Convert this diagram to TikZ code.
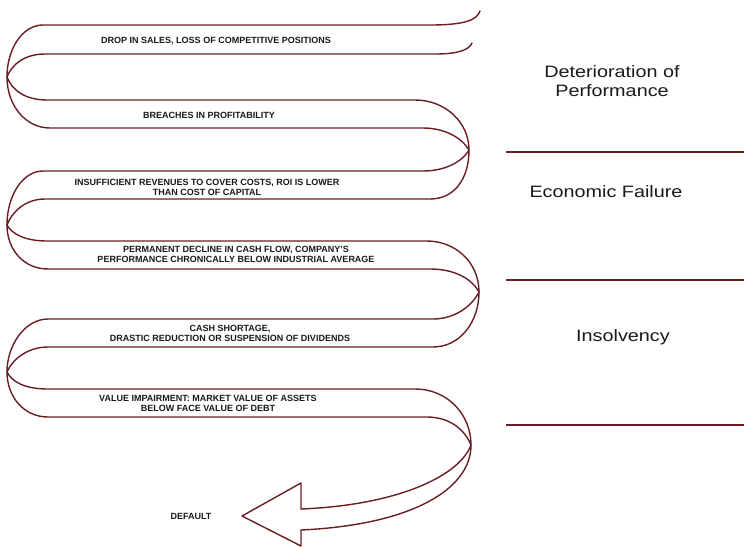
\documentclass[tikz,border=0pt]{standalone}
\usepackage{fontspec}
\setmainfont{Liberation Sans}
\usepackage{graphicx}
\definecolor{ribbon}{RGB}{105,30,36}
\definecolor{ink}{RGB}{25,25,25}
\newcommand\widen[1]{\scalebox{1.2}[1]{#1}}
\begin{document}
\begin{tikzpicture}[x=1pt,y=-1pt,
  edge/.style={draw=ribbon,line width=1.4pt,line join=round,line cap=round},
  divider/.style={draw=ribbon,line width=1.3pt},
  stage/.style={font=\fontsize{9}{10}\selectfont\bfseries,text=ink,align=center,inner sep=0pt},
  phase/.style={font=\fontsize{16.5}{18.7}\selectfont,text=ink,align=center,inner sep=0pt}]
\useasboundingbox (0,0) rectangle (744,547);

% first edge of the folded ribbon
\draw[edge] (480,11) .. controls (477,20) and (465,25) .. (430,25) -- (43,25)
 .. controls (23,25) and (7,48) .. (7,77)
 .. controls (7,106) and (26,128) .. (50,128)
 -- (423,128)
 .. controls (445,128) and (462,138) .. (469,150)
 .. controls (462,162) and (445,171) .. (423,171)
 -- (43,171)
 .. controls (23,171) and (7,195) .. (7,225)
 .. controls (7,250) and (24,269) .. (48,269)
 -- (430,269)
 .. controls (455,269) and (472,279) .. (479,292)
 .. controls (472,306) and (455,319) .. (433,319)
 -- (48,319)
 .. controls (25,319) and (7,345) .. (7,372)
 .. controls (7,397) and (24,417) .. (48,417)
 -- (427,417)
 .. controls (450,417) and (465,430) .. (471,445)
 .. controls (460,475) and (400,505) .. (301,509);

% second edge of the folded ribbon
\draw[edge] (472,43) .. controls (469,50) and (458,54) .. (435,54) -- (45,54)
 .. controls (25,54) and (12,64) .. (7,77)
 .. controls (12,90) and (25,100) .. (47,100)
 -- (415,100)
 .. controls (445,100) and (469,122) .. (469,150)
 .. controls (469,178) and (455,199) .. (430,199)
 -- (45,199)
 .. controls (25,199) and (12,212) .. (7,225)
 .. controls (12,234) and (25,241) .. (47,241)
 -- (427,241)
 .. controls (455,241) and (479,262) .. (479,292)
 .. controls (479,322) and (460,347) .. (433,347)
 -- (48,347)
 .. controls (27,347) and (12,360) .. (7,372)
 .. controls (12,382) and (25,389) .. (48,389)
 -- (415,389)
 .. controls (448,389) and (471,415) .. (471,445)
 .. controls (471,490) and (410,525) .. (301,530);

% arrow head at the end of the ribbon
\draw[edge] (301,509) -- (301,483) -- (242,516) -- (301,546) -- (301,530);

% phase dividers
\draw[divider] (506,152) -- (744,152);
\draw[divider] (506,280) -- (744,280);
\draw[divider] (506,425) -- (744,425);

% stage texts along the ribbon
\node[stage] (s1) at (216,41) {DROP IN SALES, LOSS OF COMPETITIVE POSITIONS};
\node[stage] (s2) at (209,115) {BREACHES IN PROFITABILITY};
\node[stage] (s3) at (207,187) {INSUFFICIENT REVENUES TO COVER COSTS, ROI IS LOWER\\THAN COST OF CAPITAL};
\node[stage] (s4) at (236,254) {PERMANENT DECLINE IN CASH FLOW, COMPANY'S\\PERFORMANCE CHRONICALLY BELOW INDUSTRIAL AVERAGE};
\node[stage] (s5) at (230,333) {CASH SHORTAGE,\\DRASTIC REDUCTION OR SUSPENSION OF DIVIDENDS};
\node[stage] (s6) at (208,403) {VALUE IMPAIRMENT: MARKET VALUE OF ASSETS\\BELOW FACE VALUE OF DEBT};
\node[stage] (s7) at (191,516) {DEFAULT};

% phase labels
\node[phase] (p1) at (612,81) {\widen{Deterioration of}\\\widen{Performance}};
\node[phase] (p2) at (606,192) {\widen{Economic Failure}};
\node[phase] (p3) at (623,337) {\widen{Insolvency}};
\end{tikzpicture}
\end{document}
